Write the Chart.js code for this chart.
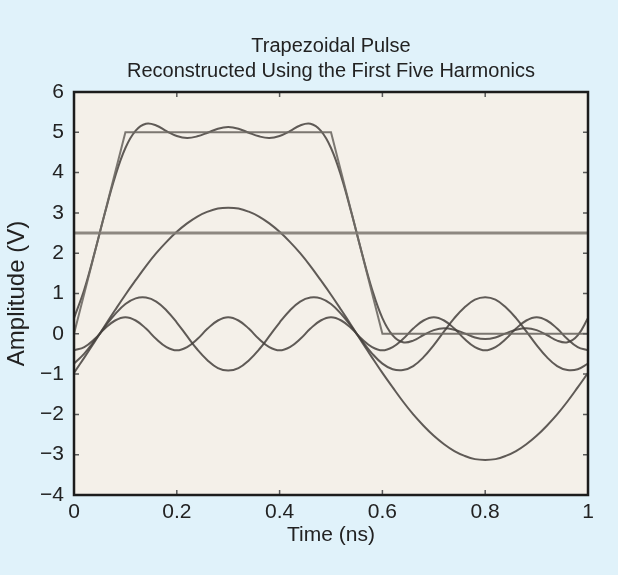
<!DOCTYPE html>
<html>
<head>
<meta charset="utf-8">
<script src="https://cdn.jsdelivr.net/npm/chart.js@4.4.1/dist/chart.umd.min.js"></script>
<style>
  html, body { margin: 0; padding: 0; background: #e0f2fa; }
  #wrap { width: 618px; height: 575px; }
</style>
</head>
<body>
<div id="wrap"><canvas id="chart" width="618" height="575"></canvas></div>
<script>
// time axis (ns)
const TIME = [0, 0.02, 0.04, 0.06, 0.08, 0.1, 0.12, 0.14, 0.16, 0.18,
  0.2, 0.22, 0.24, 0.26, 0.28, 0.3, 0.32, 0.34, 0.36, 0.38,
  0.4, 0.42, 0.44, 0.46, 0.48, 0.5, 0.52, 0.54, 0.56, 0.58,
  0.6, 0.62, 0.64, 0.66, 0.68, 0.7, 0.72, 0.74, 0.76, 0.78,
  0.8, 0.82, 0.84, 0.86, 0.88, 0.9, 0.92, 0.94, 0.96, 0.98, 1]

// harmonic 1
const H1 = [-0.97, -0.59, -0.2, 0.2, 0.59, 0.97, 1.33, 1.68, 2.0, 2.28,
  2.53, 2.74, 2.91, 3.03, 3.11, 3.13, 3.11, 3.03, 2.91, 2.74,
  2.53, 2.28, 2.0, 1.68, 1.33, 0.97, 0.59, 0.2, -0.2, -0.59,
  -0.97, -1.33, -1.68, -2.0, -2.28, -2.53, -2.74, -2.91, -3.03, -3.11,
  -3.13, -3.11, -3.03, -2.91, -2.74, -2.53, -2.28, -2.0, -1.68, -1.33, -0.97]

// harmonic 3
const H3 = [-0.74, -0.49, -0.17, 0.17, 0.49, 0.74, 0.88, 0.9, 0.8, 0.58,
  0.28, -0.06, -0.39, -0.66, -0.85, -0.91, -0.85, -0.66, -0.39, -0.06,
  0.28, 0.58, 0.8, 0.9, 0.88, 0.74, 0.49, 0.17, -0.17, -0.49,
  -0.74, -0.88, -0.9, -0.8, -0.58, -0.28, 0.06, 0.39, 0.66, 0.85,
  0.91, 0.85, 0.66, 0.39, 0.06, -0.28, -0.58, -0.8, -0.9, -0.88, -0.74]

// harmonic 5
const H5 = [-0.41, -0.33, -0.13, 0.13, 0.33, 0.41, 0.33, 0.13, -0.13, -0.33,
  -0.41, -0.33, -0.13, 0.13, 0.33, 0.41, 0.33, 0.13, -0.13, -0.33,
  -0.41, -0.33, -0.13, 0.13, 0.33, 0.41, 0.33, 0.13, -0.13, -0.33,
  -0.41, -0.33, -0.13, 0.13, 0.33, 0.41, 0.33, 0.13, -0.13, -0.33,
  -0.41, -0.33, -0.13, 0.13, 0.33, 0.41, 0.33, 0.13, -0.13, -0.33, -0.41]

// reconstructed pulse (dc + harmonics)
const RECON = [0.39, 1.1, 2.01, 2.99, 3.9, 4.61, 5.04, 5.21, 5.17, 5.03,
  4.91, 4.86, 4.9, 4.99, 5.09, 5.13, 5.09, 4.99, 4.9, 4.86,
  4.91, 5.03, 5.17, 5.21, 5.04, 4.61, 3.9, 2.99, 2.01, 1.1,
  0.39, -0.04, -0.21, -0.17, -0.03, 0.09, 0.14, 0.1, 0.01, -0.09,
  -0.13, -0.09, 0.01, 0.1, 0.14, 0.09, -0.03, -0.17, -0.21, -0.04, 0.39]

// ideal trapezoid
const PULSE_T = [0, 0.1, 0.5, 0.6, 1]
const PULSE_V = [0, 5, 5, 0, 0]

// dc level
const DC_T = [0, 1]
const DC_V = [2.5, 2.5]

const PLOT_BG = '#f4f0e9'
const CURVE = 'rgba(68, 64, 60, 0.85)'
const FONT = "'Liberation Sans', Arial, Helvetica, sans-serif"

function pairs(xs, ys) {
    return xs.map((x, i) => ({ x: x, y: ys[i] }))
}

function curve(data, color, width, tension) {
    return {
        data: data,
        borderColor: color,
        borderWidth: width,
        pointRadius: 0,
        tension: tension,
        fill: false
    }
}

// plot background, inner tick marks and the black frame
const framePlugin = {
    id: 'frame',
    beforeDraw(chart) {
        const { ctx, chartArea: a } = chart
        ctx.save()
        ctx.fillStyle = PLOT_BG
        ctx.fillRect(a.left, a.top, a.right - a.left, a.bottom - a.top)
        ctx.restore()
    },
    afterDraw(chart) {
        const { ctx, chartArea: a, scales: { x, y } } = chart
        ctx.save()
        ctx.strokeStyle = '#5a5a5a'
        ctx.lineWidth = 1.5
        ctx.beginPath()
        x.ticks.forEach(t => {
            const px = x.getPixelForValue(t.value)
            ctx.moveTo(px, a.bottom); ctx.lineTo(px, a.bottom - 5)
            ctx.moveTo(px, a.top); ctx.lineTo(px, a.top + 5)
        })
        y.ticks.forEach(t => {
            const py = y.getPixelForValue(t.value)
            ctx.moveTo(a.left, py); ctx.lineTo(a.left + 5, py)
            ctx.moveTo(a.right, py); ctx.lineTo(a.right - 5, py)
        })
        ctx.stroke()
        ctx.strokeStyle = '#1c1c1c'
        ctx.lineWidth = 2.5
        ctx.strokeRect(a.left, a.top, a.right - a.left, a.bottom - a.top)
        ctx.restore()
    }
}

new Chart(document.getElementById('chart'), {
    type: 'line',
    data: {
        datasets: [
            curve(pairs(DC_T, DC_V), 'rgba(130, 124, 118, 0.9)', 3, 0),
            curve(pairs(PULSE_T, PULSE_V), 'rgba(110, 105, 100, 0.9)', 2, 0),
            curve(pairs(TIME, H1), CURVE, 2, 0.4),
            curve(pairs(TIME, H3), CURVE, 2, 0.4),
            curve(pairs(TIME, H5), CURVE, 2, 0.4),
            curve(pairs(TIME, RECON), CURVE, 2, 0.4)
        ]
    },
    options: {
        responsive: false,
        devicePixelRatio: 1,
        animation: false,
        layout: { padding: { left: 0, right: 30, top: 0, bottom: 0 } },
        plugins: {
            legend: { display: false },
            tooltip: { enabled: false },
            title: {
                display: true,
                fullSize: false,
                text: ['Trapezoidal Pulse', 'Reconstructed Using the First Five Harmonics'],
                color: '#222',
                font: { family: FONT, size: 20, weight: 'normal', lineHeight: '25px' },
                padding: { top: 34, bottom: 8 }
            }
        },
        scales: {
            x: {
                type: 'linear',
                min: 0,
                max: 1,
                grid: { display: false, drawTicks: false },
                border: { display: false },
                ticks: {
                    stepSize: 0.2,
                    padding: 5,
                    color: '#222',
                    font: { family: FONT, size: 21 },
                    callback: v => String(Number(v.toFixed(1)))
                },
                title: {
                    display: true,
                    text: 'Time (ns)',
                    color: '#222',
                    font: { family: FONT, size: 21 },
                    padding: { top: 0, bottom: 27 }
                },
                afterFit(scale) { scale.height = 80 }
            },
            y: {
                min: -4,
                max: 6,
                grid: { display: false, drawTicks: false },
                border: { display: false },
                ticks: {
                    stepSize: 1,
                    padding: 10,
                    color: '#222',
                    font: { family: FONT, size: 21 },
                    callback: v => String(v).replace('-', '\u2212')
                },
                title: {
                    display: true,
                    text: 'Amplitude (V)',
                    color: '#222',
                    font: { family: FONT, size: 24 },
                    padding: { top: 3, bottom: 0 }
                },
                afterFit(scale) { scale.width = 74 }
            }
        }
    },
    plugins: [framePlugin]
})
</script>
</body>
</html>
